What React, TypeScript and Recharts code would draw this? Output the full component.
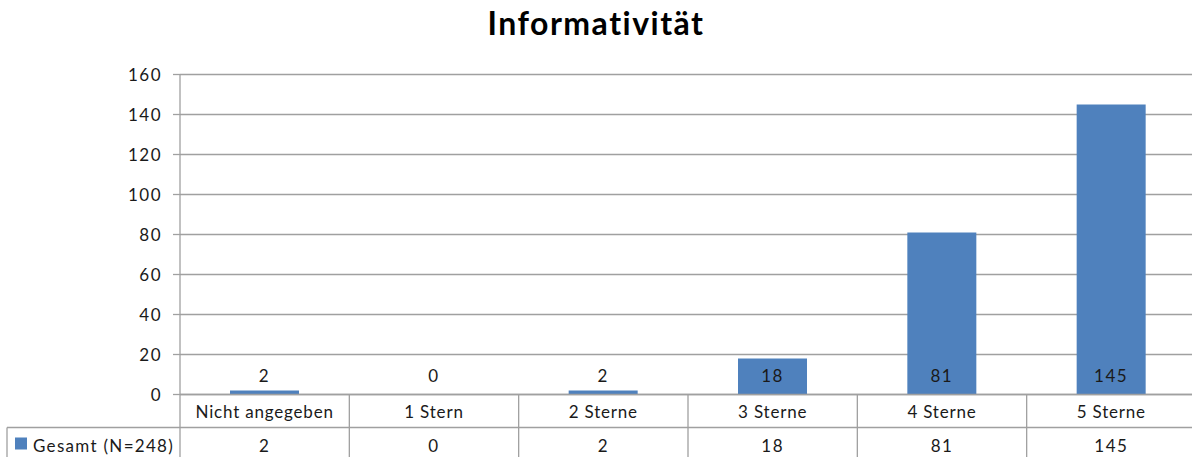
import { BarChart, Bar, XAxis, YAxis, CartesianGrid, Rectangle } from 'recharts';

const title = 'Informativität';
const categories = ['Nicht angegeben', '1 Stern', '2 Sterne', '3 Sterne', '4 Sterne', '5 Sterne'];
const gesamt = [2, 0, 2, 18, 81, 145];
const seriesName = 'Gesamt (N=248)';
const yTicks = [0, 20, 40, 60, 80, 100, 120, 140, 160];

const FONT = 'Lato, "Open Sans", sans-serif';
const TEXT = '#1a1a1a';
const GRID = '#a0a0a0';
const BAR = '#4f81bd';

const CHART_W = 1200;
const CHART_H = 460;
const MARGIN = { top: 74.5, right: 4, bottom: 0, left: 0 };
const Y_AXIS_W = 180;
const PLOT_H = 320;
const PLOT_BOTTOM = MARGIN.top + PLOT_H;
const CELL_W = (CHART_W - MARGIN.left - MARGIN.right - Y_AXIS_W) / categories.length;
const ROW_H = 33;

const numText = { fontSize: 17, fontFamily: FONT, fill: TEXT, letterSpacing: 1.5 };

const data = categories.map((name, i) => ({ name, gesamt: gesamt[i] }));

// table under the plot, drawn one column per tick
const TableTick = ({ x, payload }: any) => {
  const i = payload.index;
  const half = CELL_W / 2;
  const rowLine = PLOT_BOTTOM + ROW_H;
  return (
    <g>
      <line x1={x + half} y1={PLOT_BOTTOM} x2={x + half} y2={CHART_H} stroke={GRID} strokeWidth={1.3} />
      <line x1={x - half} y1={rowLine} x2={x + half} y2={rowLine} stroke={GRID} strokeWidth={1.3} />
      {i === 0 && (
        <g>
          <line x1={x - half} y1={PLOT_BOTTOM} x2={x - half} y2={CHART_H} stroke={GRID} strokeWidth={1.3} />
          <line x1={7} y1={rowLine} x2={x - half} y2={rowLine} stroke={GRID} strokeWidth={1.3} />
          <line x1={7} y1={rowLine} x2={7} y2={CHART_H} stroke={GRID} strokeWidth={1.3} />
          <rect x={15} y={rowLine + 10} width={12} height={12} fill={BAR} />
          <text x={33} y={rowLine + 24.5} fontSize={17} fontFamily={FONT} fill={TEXT} letterSpacing={1.3}>
            {seriesName}
          </text>
        </g>
      )}
      <text x={x} y={PLOT_BOTTOM + 23.5} textAnchor="middle" fontSize={17} fontFamily={FONT} fill={TEXT} letterSpacing={0.8}>
        {categories[i]}
      </text>
      <text x={x} y={rowLine + 24.5} textAnchor="middle" {...numText}>
        {gesamt[i]}
      </text>
    </g>
  );
};

// bar plus Excel-style "inside base" label (drawn for zero values too)
const BarWithLabel = (props: any) => {
  const { x, y, width, height, payload } = props;
  return (
    <g>
      {height > 0 && <Rectangle x={x} y={y} width={width} height={height} fill={BAR} />}
      <text x={x + width / 2} y={y + height - 13} textAnchor="middle" {...numText}>
        {payload.gesamt}
      </text>
    </g>
  );
};

export default function App() {
  return (
    <div style={{ position: 'absolute', left: 0, top: 0, width: 1192, height: 457, overflow: 'hidden', background: '#fff' }}>
      <div
        style={{
          position: 'absolute',
          top: 3,
          left: 0,
          width: 1192,
          textAlign: 'center',
          fontFamily: FONT,
          fontWeight: 700,
          fontSize: 32,
          letterSpacing: 1.5,
          color: '#000',
        }}
      >
        {title}
      </div>
      <BarChart width={CHART_W} height={CHART_H} data={data} margin={MARGIN}>
        <CartesianGrid vertical={false} stroke={GRID} strokeWidth={1.3} />
        <XAxis
          dataKey="name"
          interval={0}
          height={CHART_H - PLOT_BOTTOM}
          axisLine={{ stroke: GRID, strokeWidth: 1.3 }}
          tickLine={false}
          tick={<TableTick />}
        />
        <YAxis
          width={Y_AXIS_W}
          domain={[0, 160]}
          ticks={yTicks}
          interval={0}
          tickSize={7}
          tickMargin={11}
          axisLine={{ stroke: GRID, strokeWidth: 1.3 }}
          tickLine={{ stroke: GRID, strokeWidth: 1.3 }}
          tick={numText}
        />
        <Bar
          dataKey="gesamt"
          name={seriesName}
          fill={BAR}
          barSize={69}
          isAnimationActive={false}
          shape={<BarWithLabel />}
        />
      </BarChart>
    </div>
  );
}
